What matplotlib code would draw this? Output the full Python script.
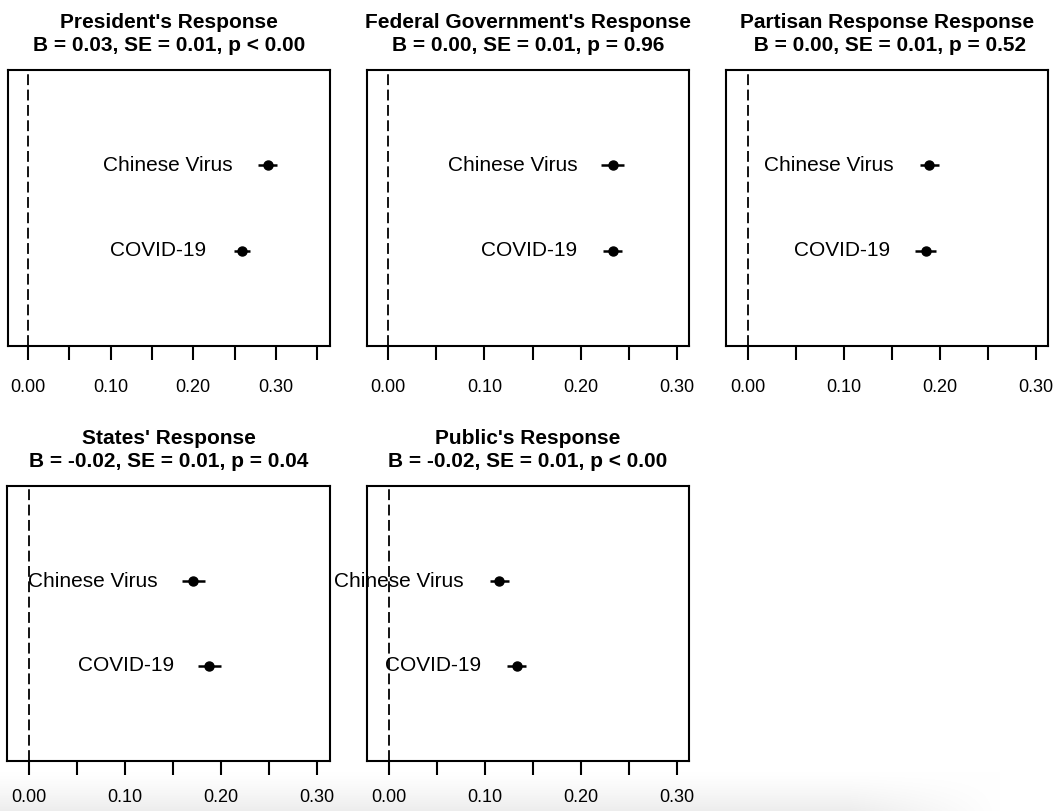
import numpy as np
import matplotlib.pyplot as plt

W, H = 1061, 811

panel_titles = ["President's Response",
                "Federal Government's Response",
                "Partisan Response Response",
                "States' Response",
                "Public's Response"]
stat_lines = ["B = 0.03, SE = 0.01, p < 0.00",
              "B = 0.00, SE = 0.01, p = 0.96",
              " B = 0.00, SE = 0.01, p = 0.52",
              "B = -0.02, SE = 0.01, p = 0.04",
              "B = -0.02, SE = 0.01, p < 0.00"]
term_labels = ["Chinese Virus", "COVID-19"]
est_chinese = [0.290, 0.233, 0.189, 0.171, 0.115]
est_covid = [0.259, 0.233, 0.185, 0.188, 0.133]
err_chinese = [0.011, 0.012, 0.010, 0.012, 0.010]
err_covid = [0.010, 0.010, 0.011, 0.012, 0.010]
tick_max = [0.35, 0.30, 0.30, 0.30, 0.30]

# panel boxes in pixels: left, right, top, bottom, and the x limits
boxes = [(8, 330, 70, 346), (367, 689, 70, 346), (726, 1048, 70, 346),
         (7, 330, 486, 761), (367, 689, 486, 761)]
xlims = [(-0.0242, 0.3656), (-0.0218, 0.3122), (-0.0229, 0.3125),
         (-0.0229, 0.3135), (-0.0229, 0.3125)]
title_y = [34, 34, 34, 450, 450]
tick_pad = [14, 14, 14, 10.5, 10.5]

plt.rcParams['font.family'] = 'Liberation Sans'

fig = plt.figure(figsize=(W / 100, H / 100), dpi=100)

# faint grey shading along the lower edge
bg = fig.add_axes([0, 0, 1, 40 / H], zorder=-5)
gy = np.linspace(0, 1, 40)[:, None]
gx = np.clip((1000 - np.arange(W)) / 150., 0, 1)[None, :]
shade = 1 - 0.07 * (gy ** 1.3) * gx
bg.imshow(np.dstack([shade] * 3), aspect='auto', origin='upper',
          extent=[0, 1, 0, 1], vmin=0, vmax=1)
bg.axis('off')

for i in range(5):
    l, r, t, b = boxes[i]
    ax = fig.add_axes([l / W, 1 - b / H, (r - l) / W, (b - t) / H])
    ax.set_facecolor('none')
    ax.set_xlim(*xlims[i])
    ax.set_ylim(-0.12, 3.12)

    ax.axvline(0, color='k', lw=1.3, ls=(0, (6, 2.5)))
    ys = [2, 1]
    xs = [est_chinese[i], est_covid[i]]
    es = [err_chinese[i], err_covid[i]]
    ax.errorbar(xs, ys, xerr=es, fmt='o', color='k', ms=6.5, elinewidth=1.8,
                capsize=0)
    for x, y, lab in zip(xs, ys, term_labels):
        ax.annotate(lab, (x, y), xytext=(-25.5, 0), textcoords='offset points',
                    ha='right', va='center', fontsize=15)

    ticks = np.round(np.arange(0, tick_max[i] + 0.001, 0.05), 2)
    ax.set_xticks(ticks)
    ax.set_xticklabels(['%.2f' % v if round(v * 100) % 10 == 0 else '' for v in ticks],
                       fontsize=13)
    ax.tick_params(axis='x', direction='out', length=10, width=1.5, pad=tick_pad[i])
    ax.set_yticks([])
    for s in ax.spines.values():
        s.set_linewidth(1.5)

    fig.text((l + r) / 2 / W, 1 - title_y[i] / H,
             panel_titles[i] + '\n' + stat_lines[i],
             ha='center', va='center', fontsize=15, fontweight='bold',
             linespacing=1.25)

fig.savefig('out.png', dpi=100)
